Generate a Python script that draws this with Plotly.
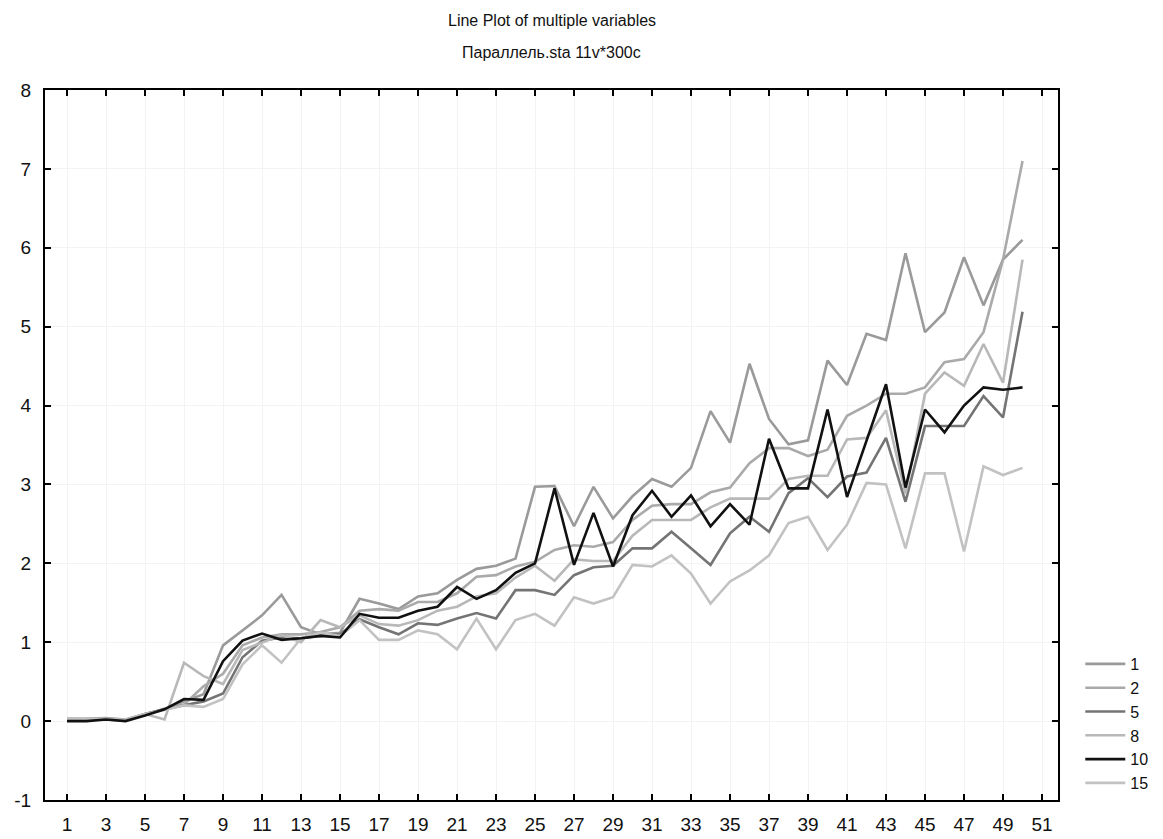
import plotly.graph_objects as go

cases = list(range(1, 51))

v1 = [0.03, 0.03, 0.04, 0.02, 0.09, 0.15, 0.25, 0.34, 0.96, 1.15,
      1.34, 1.60, 1.19, 1.10, 1.12, 1.55, 1.49, 1.42, 1.58, 1.62,
      1.79, 1.93, 1.97, 2.06, 2.97, 2.98, 2.47, 2.97, 2.57, 2.85,
      3.07, 2.97, 3.21, 3.93, 3.53, 4.53, 3.83, 3.51, 3.56, 4.57,
      4.26, 4.91, 4.83, 5.93, 4.93, 5.18, 5.88, 5.27, 5.85, 6.10]
v2 = [0.02, 0.02, 0.03, 0.01, 0.08, 0.16, 0.21, 0.44, 0.60, 0.96,
      1.06, 1.10, 1.10, 1.13, 1.19, 1.40, 1.42, 1.40, 1.51, 1.51,
      1.62, 1.83, 1.85, 1.96, 2.02, 2.17, 2.23, 2.21, 2.27, 2.55,
      2.73, 2.75, 2.75, 2.90, 2.96, 3.27, 3.46, 3.46, 3.36, 3.44,
      3.87, 4.00, 4.15, 4.15, 4.23, 4.55, 4.59, 4.93, 5.85, 7.10]
v5 = [0.02, 0.02, 0.02, 0.01, 0.09, 0.15, 0.20, 0.25, 0.35, 0.81,
      1.02, 1.06, 1.05, 1.08, 1.10, 1.29, 1.19, 1.10, 1.24, 1.22,
      1.30, 1.37, 1.30, 1.66, 1.66, 1.60, 1.85, 1.95, 1.97, 2.19,
      2.19, 2.40, 2.19, 1.98, 2.38, 2.59, 2.40, 2.89, 3.08, 2.84,
      3.10, 3.15, 3.59, 2.78, 3.74, 3.74, 3.74, 4.12, 3.85, 5.19]
v8 = [0.03, 0.03, 0.03, 0.02, 0.09, 0.02, 0.74, 0.57, 0.47, 0.90,
      1.00, 1.09, 1.00, 1.28, 1.19, 1.34, 1.23, 1.21, 1.28, 1.40,
      1.45, 1.58, 1.62, 1.82, 1.97, 1.78, 2.05, 2.03, 2.03, 2.35,
      2.55, 2.55, 2.55, 2.71, 2.82, 2.82, 2.82, 3.07, 3.11, 3.11,
      3.57, 3.59, 3.94, 2.88, 4.15, 4.42, 4.25, 4.78, 4.29, 5.85]
v10 = [0.00, 0.00, 0.02, 0.00, 0.07, 0.15, 0.28, 0.27, 0.76, 1.02,
       1.11, 1.03, 1.05, 1.08, 1.06, 1.36, 1.31, 1.31, 1.40, 1.45,
       1.70, 1.55, 1.66, 1.88, 2.00, 2.95, 1.98, 2.64, 1.96, 2.61,
       2.92, 2.59, 2.86, 2.47, 2.75, 2.49, 3.58, 2.95, 2.95, 3.95,
       2.84, 3.55, 4.27, 2.96, 3.95, 3.66, 4.00, 4.23, 4.20, 4.23]
v15 = [0.02, 0.02, 0.02, 0.01, 0.09, 0.14, 0.20, 0.18, 0.28, 0.72,
       0.96, 0.74, 1.05, 1.12, 1.08, 1.28, 1.03, 1.03, 1.15, 1.10,
       0.91, 1.30, 0.91, 1.28, 1.36, 1.21, 1.57, 1.49, 1.57, 1.98,
       1.96, 2.10, 1.87, 1.49, 1.77, 1.91, 2.10, 2.51, 2.59, 2.17,
       2.49, 3.02, 3.00, 2.19, 3.14, 3.14, 2.15, 3.23, 3.12, 3.21]

names = ["1", "2", "5", "8", "10", "15"]
values = [v1, v2, v5, v8, v10, v15]
colors = ["#9a9a9a", "#aaaaaa", "#747474", "#b8b8b8", "#111111", "#c2c2c2"]

x_ticks = list(range(1, 52, 2))
y_ticks = list(range(-1, 9))

fig = go.Figure()
draw_order = [0, 1, 2, 3, 5, 4]
for i in draw_order:
    fig.add_trace(go.Scatter(
        x=cases, y=values[i], mode="lines", name=names[i],
        legendrank=i + 1,
        line=dict(color=colors[i], width=2.6),
    ))

axis_font = dict(family="Liberation Sans, Arial, sans-serif", size=19, color="#111111")
title_font = dict(family="Liberation Sans Narrow, Liberation Sans, Arial", size=16, color="#111111")

fig.update_layout(
    width=1163, height=839,
    margin=dict(l=45, r=105, t=90, b=39, autoexpand=False),
    paper_bgcolor="white", plot_bgcolor="white",
    showlegend=True,
    legend=dict(
        x=1.022, y=0.0, xanchor="left", yanchor="bottom",
        font=dict(family="Liberation Sans, Arial, sans-serif", size=16, color="#111111"),
        bgcolor="rgba(0,0,0,0)", tracegroupgap=0, itemwidth=40,
    ),
    annotations=[
        dict(text="Line Plot of multiple variables", x=0.5, y=1.0, xref="paper", yref="paper",
             yshift=70, showarrow=False, yanchor="middle", font=title_font),
        dict(text="Параллель.sta 11v*300c", x=0.5, y=1.0, xref="paper", yref="paper",
             yshift=38, showarrow=False, yanchor="middle", font=title_font),
    ],
)

fig.update_xaxes(
    range=[-0.13, 51.82], tickmode="array", tickvals=x_ticks,
    ticktext=[str(t) for t in x_ticks],
    showline=True, linecolor="black", linewidth=2, mirror="ticks",
    ticks="inside", ticklen=6, tickwidth=1.5, tickcolor="black",
    showgrid=True, gridcolor="#f3f3f3", gridwidth=1, zeroline=False,
    tickfont=axis_font, ticklabelstandoff=6, automargin=False,
)
fig.update_yaxes(
    range=[-1, 8], tickmode="array", tickvals=y_ticks,
    ticktext=[str(t) for t in y_ticks],
    showline=True, linecolor="black", linewidth=2, mirror="ticks",
    ticks="inside", ticklen=6, tickwidth=1.5, tickcolor="black",
    showgrid=True, gridcolor="#f3f3f3", gridwidth=1, zeroline=False,
    tickfont=axis_font, ticklabelstandoff=8, automargin=False,
)

fig.write_html("out.html")
